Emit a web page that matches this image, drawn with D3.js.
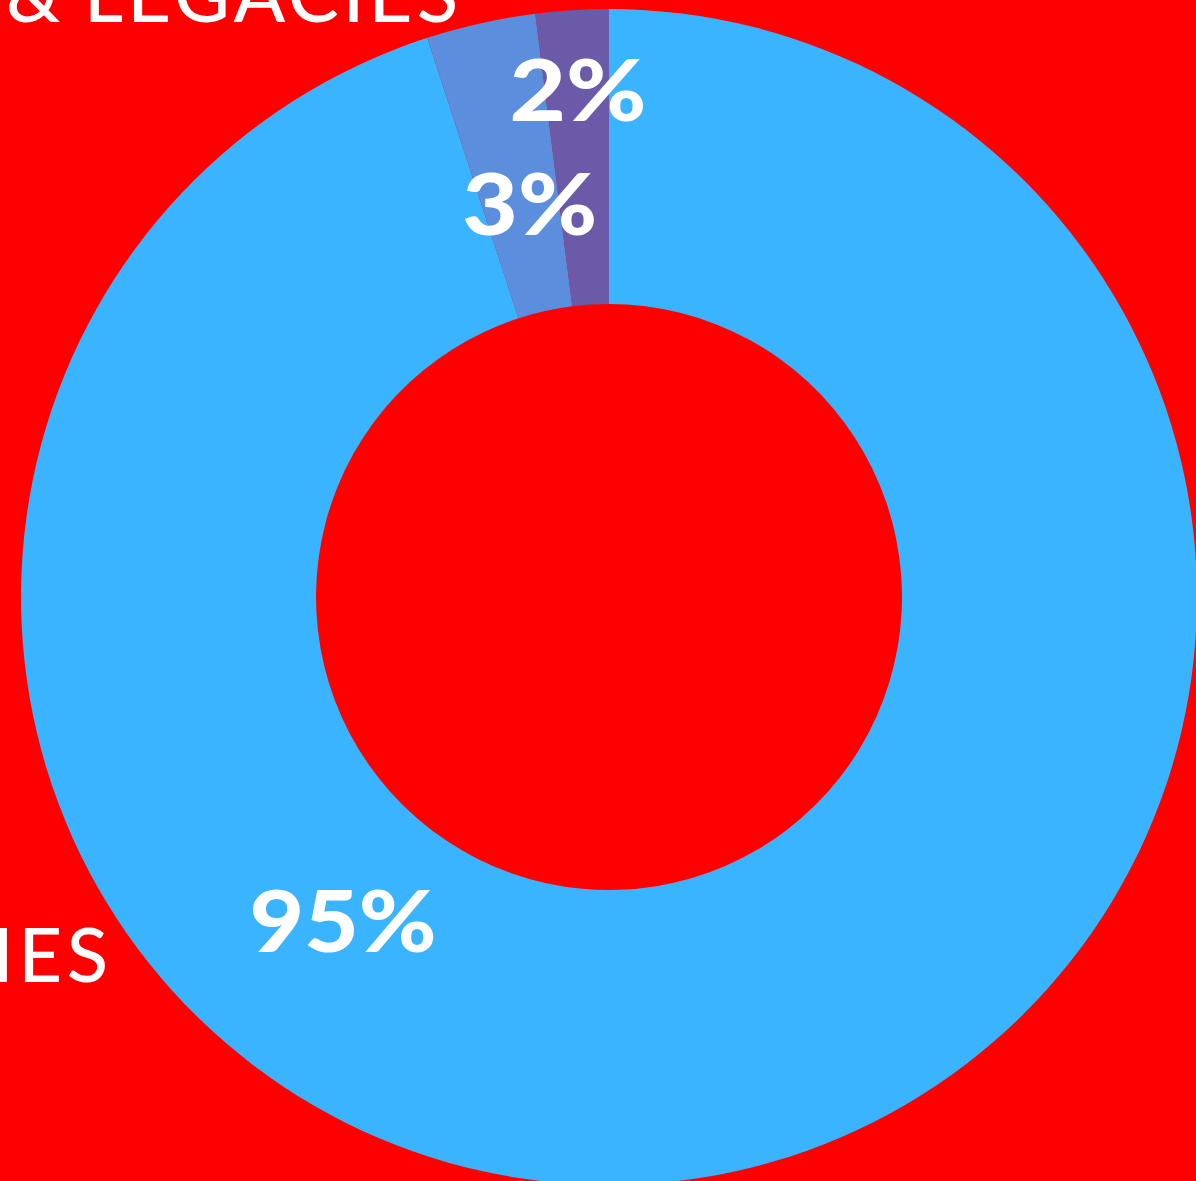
<!DOCTYPE html>
<html>
<head>
<meta charset="utf-8">
<script src="https://cdn.jsdelivr.net/npm/d3@7"></script>
<style>
  html, body { margin: 0; padding: 0; background: #ff0000; overflow: hidden; }
  svg { display: block; }
</style>
</head>
<body>
<div id="chart"></div>
<script>
// slice data, clockwise from 12 o'clock
var categories = ["A", "B", "C"];
var values = [95, 3, 2];
var labels = ["95%", "3%", "2%"];
var colors = ["#3ab4fe", "#5b8edd", "#6a5aa7"];
var sideTitles = ["& LEGACIES", "IES"];

var width = 1196,
  height = 1181,
  cx = 609,
  cy = 597,
  outerR = 588,
  innerR = 293;

var font = "Lato, 'Open Sans', sans-serif";

var svg = d3.select("#chart").append("svg")
  .attr("width", width)
  .attr("height", height);

svg.append("rect")
  .attr("width", width)
  .attr("height", height)
  .attr("fill", "#ff0000");

// partial titles from the surrounding layout (cut by the frame, as in the source)
svg.append("text")
  .attr("x", 84)
  .attr("y", 22)
  .attr("fill", "#fff")
  .style("font-family", font)
  .style("font-size", "76px")
  .style("font-weight", 500)
  .attr("textLength", 374)
  .text(sideTitles[0].replace("& ", ""));

svg.append("text")
  .attr("x", 6)
  .attr("y", 22)
  .attr("fill", "#fff")
  .style("font-family", font)
  .style("font-size", "76px")
  .style("font-weight", 500)
  .text("&");

svg.append("text")
  .attr("x", 108)
  .attr("y", 982)
  .attr("text-anchor", "end")
  .attr("fill", "#fff")
  .style("font-family", font)
  .style("font-size", "76px")
  .style("font-weight", 500)
  .attr("textLength", 116)
  .text(sideTitles[1]);

var g = svg.append("g")
  .attr("transform", "translate(" + cx + "," + cy + ")");

var pie = d3.pie().sort(null).value(function(d) { return d.value; });
var arc = d3.arc().innerRadius(innerR).outerRadius(outerR);

var data = categories.map(function(c, i) {
  return { cat: c, value: values[i], label: labels[i], color: colors[i] };
});
var arcs = pie(data);

g.selectAll("path.slice")
  .data(arcs)
  .enter().append("path")
  .attr("class", "slice")
  .attr("d", arc)
  .attr("fill", function(d) { return d.data.color; });

// label placement: radius, angle (deg, clockwise from top) and drawn width per slice
var labelPos = [
  { r: 419, a: 219.4, w: 187 },
  { r: 401, a: -11.4, w: 135 },
  { r: 508, a: -3.5, w: 137 }
];

g.selectAll("text.lbl")
  .data(arcs)
  .enter().append("text")
  .attr("class", "lbl")
  .attr("x", function(d, i) { return labelPos[i].r * Math.sin(labelPos[i].a * Math.PI / 180) - labelPos[i].w / 2; })
  .attr("y", function(d, i) { return -labelPos[i].r * Math.cos(labelPos[i].a * Math.PI / 180); })
  .attr("dy", "0.36em")
  .attr("textLength", function(d, i) { return labelPos[i].w; })
  .attr("lengthAdjust", "spacingAndGlyphs")
  .attr("fill", "#fff")
  .style("font-family", font)
  .style("font-size", "86px")
  .style("font-weight", 900)
  .text(function(d) { return d.data.label; });
</script>
</body>
</html>
